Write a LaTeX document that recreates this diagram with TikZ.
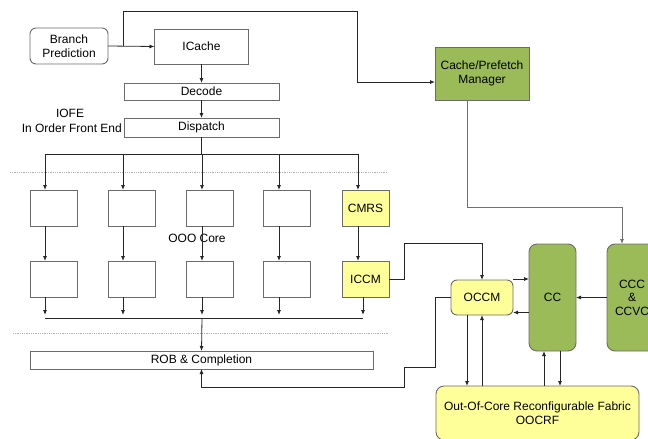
\documentclass[tikz,border=0pt]{standalone}
\usepackage{fontspec}
\setmainfont{Liberation Sans}
\usepackage{xcolor}
\usetikzlibrary{arrows.meta, positioning}

\definecolor{boxgray}{HTML}{6B6B6B}
\definecolor{linegray}{HTML}{707070}
\definecolor{unitgreen}{HTML}{9BBB59}
\definecolor{unityellow}{HTML}{FFFF99}

\tikzset{
    blk/.style={draw=boxgray, line width=0.9pt, fill=white, inner sep=0pt, outer sep=0pt,
        align=center, font=\fontsize{12}{13.5}\selectfont},
    yblk/.style={blk, fill=unityellow},
    gblk/.style={blk, fill=unitgreen},
    arr/.style={draw=black!85, line width=0.8pt, -{Latex[length=5pt,width=4pt]}},
    wire/.style={draw=black!85, line width=0.8pt},
    divider/.style={draw=gray!60, line width=0.8pt, densely dotted},
    lbl/.style={inner sep=0pt, font=\fontsize{12}{13.5}\selectfont}
}

\begin{document}
\begin{tikzpicture}[x=1pt, y=-1pt]
    \useasboundingbox (0,0) rectangle (648,439);

    \node[blk, rounded corners=6pt, minimum width=78, minimum height=36] (bp) at (69,46) {Branch\\Prediction};
    \node[blk, minimum width=94, minimum height=35] (icache) at (201.5,46.5) {ICache};
    \node[blk, minimum width=155, minimum height=17] (decode) at (201.5,91.5) {Decode};
    \node[blk, minimum width=155, minimum height=19] (dispatch) at (201.5,127.5) {Dispatch};
    \node[gblk, minimum width=94, minimum height=53] (cpm) at (482,73.5) {Cache/Prefetch\\Manager};

    \node[lbl] (iofe) at (70,113) {IOFE};
    \node[lbl, anchor=east] (iofelong) at (122,128) {In Order Front End};

    \draw[arr] (bp.east) -- (icache.west);
    \draw[arr] ([xshift=15pt]bp.east) -- ++(0,-35) -- ++(234,0) |- ([yshift=-8.5pt]cpm.west);
    \draw[arr] (icache.south) -- (decode.north);
    \draw[arr] (decode.south) -- (dispatch.north);

    \draw[divider] (10,172) -- (388,172);
    \draw[divider] (13,333) -- (388,333);

    \node[blk, minimum width=47, minimum height=36] (r1a) at (53.5,208) {};
    \node[blk, minimum width=47, minimum height=36] (r1b) at (131.5,208) {};
    \node[blk, minimum width=47, minimum height=36] (r1c) at (209.5,208) {};
    \node[blk, minimum width=47, minimum height=36] (r1d) at (287,208) {};
    \node[yblk, minimum width=47, minimum height=36] (r1e) at (365.5,208) {CMRS};

    \node[blk, minimum width=47, minimum height=36] (r2a) at (53.5,279) {};
    \node[blk, minimum width=47, minimum height=36] (r2b) at (131.5,279) {};
    \node[blk, minimum width=47, minimum height=36] (r2c) at (209.5,279) {};
    \node[blk, minimum width=47, minimum height=36] (r2d) at (287,279) {};
    \node[yblk, minimum width=47, minimum height=36] (r2e) at (365.5,279) {ICCM};

    \node[lbl] (ooo) at (197,238) {OOO Core};

    \draw[wire] (dispatch.south) -- ++(0,17) coordinate (busin);
    \foreach \n/\x in {a/45,b/123,c/202,d/279,e/358} {
        \coordinate (top\n) at (\x,154);
        \draw[arr] (top\n) -- (top\n |- r1\n.north);
        \draw[arr] (top\n |- r1\n.south) -- (top\n |- r2\n.north);
    }
    \draw[wire] (topa) -- (tope);

    \foreach \n/\x in {a/45,b/123,c/202,d/279,e/363} {
        \coordinate (bot\n) at (\x,318);
        \draw[arr] (bot\n |- r2\n.south) -- ([yshift=3pt]bot\n);
    }
    \draw[wire] (bota) -- (bote);

    \node[blk, minimum width=343, minimum height=18] (rob) at (201.5,360) {ROB \& Completion};
    \draw[arr] (botc) -- (rob.north);

    \node[yblk, rounded corners=6pt, minimum width=62, minimum height=35] (occm) at (482,297.5) {OCCM};
    \node[gblk, rounded corners=8pt, minimum width=47, minimum height=107] (cc) at (552.5,297.5) {CC};
    \node[gblk, rounded corners=8pt, minimum width=50, minimum height=107] (ccc) at (632,297.5) {CCC\\\&\\CCVC};
    \node[yblk, rounded corners=8pt, minimum width=203, minimum height=54] (oocrf) at (537.5,413) {Out-Of-Core Reconfigurable Fabric\\OOCRF};

    \draw[arr] (r2e.east) -- ++(15,0) -- ++(0,-36) -| (occm.north);
    \draw[arr] (occm.west) -- ++(-16,0) -- ++(0,70) -- ++(-31,0) -- ++(0,20) -| (rob.south);
    \draw[arr, draw=linegray] ([xshift=-15pt]cpm.south) -- ++(0,107) -| ([xshift=-10pt]ccc.north);

    \draw[arr] ([yshift=18.5pt]occm.east) -- ([yshift=18.5pt]cc.west);
    \draw[arr] ([yshift=-15pt]cc.west) -- ([yshift=-15pt]occm.east);
    \draw[arr] (ccc.west) -- (cc.east);

    \draw[arr] ([xshift=-15pt]occm.south) -- ([xshift=-15pt]occm.south |- oocrf.north);
    \draw[arr] (occm.south |- oocrf.north) -- (occm.south);
    \draw[arr] ([xshift=-8.5pt]cc.south |- oocrf.north) -- ([xshift=-8.5pt]cc.south);
    \draw[arr] ([xshift=7.5pt]cc.south) -- ([xshift=7.5pt]cc.south |- oocrf.north);
\end{tikzpicture}
\end{document}
